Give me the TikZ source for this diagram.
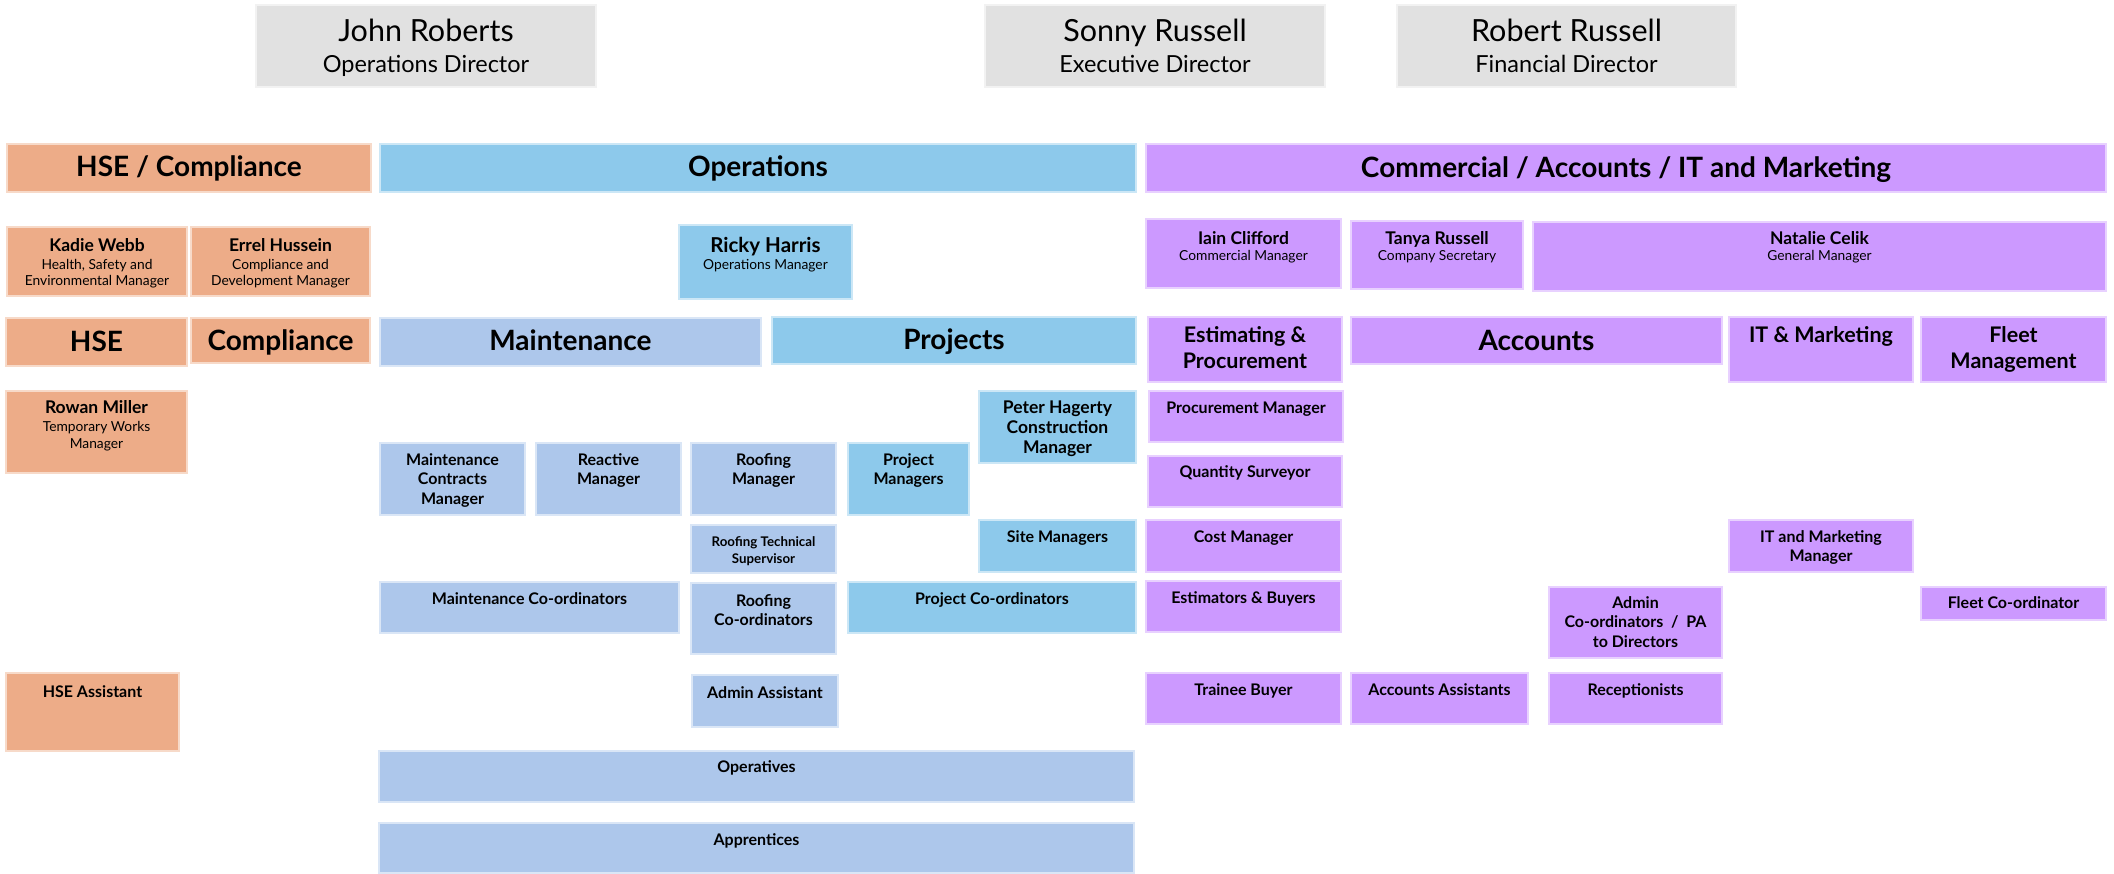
\documentclass[tikz,border=0pt]{standalone}
\usepackage{fontspec}
\setmainfont{Lato}
\definecolor{orng}{HTML}{EDAC88}
\definecolor{opsb}{HTML}{8DC9EB}
\definecolor{mntb}{HTML}{ADC7EB}
\definecolor{purp}{HTML}{CC99FF}
\definecolor{gry}{HTML}{E1E1E1}
\tikzset{boxst/.style={draw=#1!45!white, fill=#1, line width=1.2pt, inner sep=0pt, outer sep=0pt}}
\newcommand\fsz[2]{\fontsize{#1}{#2}\selectfont}
\newcommand\obox[8]{%
\node[boxst=#6, anchor=north west, minimum width={(#4-#2)*1pt}, minimum height={(#5-#3)*1pt}] (#1) at (#2pt,-#3pt) {};
\node[anchor=base, inner sep=0pt] (#1t) at ([yshift=-#7pt]#1.north) {\parbox[t]{\dimexpr#4pt-#2pt\relax}{\centering #8}};
}
\newcommand\hdf{\fsz{28}{30}\bfseries}
\newcommand\smb{\fsz{16}{19.5}\bfseries}
\newcommand\mdb{\fsz{21.5}{25}\bfseries}
\newcommand\dnm{\fsz{30.5}{31}}
\newcommand\dsb{\fsz{23.5}{31}}
\newcommand\pnm{\fontsize{17.5}{16}\selectfont\bfseries}
\newcommand\psb{\fontsize{13.8}{16}\selectfont\mdseries}
\begin{document}
\begin{tikzpicture}[x=1pt,y=1pt]
\path[fill=white,use as bounding box] (0,0) rectangle (2114,-874);
% directors
\obox{jr}{256}{5}{596}{87}{gry}{37}{\dnm John Roberts\\\dsb Operations Director}
\obox{sr}{985}{5}{1325}{87}{gry}{37}{\dnm Sonny Russell\\\dsb Executive Director}
\obox{rr}{1397}{5}{1736}{87}{gry}{37}{\dnm Robert Russell\\\dsb Financial Director}
% banners
\obox{hsec}{7}{144}{371}{192}{orng}{33}{\hdf HSE / Compliance}
\obox{ops}{380}{144}{1136}{192}{opsb}{33}{\hdf Operations}
\obox{com}{1146}{144}{2106}{192}{purp}{34}{\hdf Commercial / Accounts / IT and Marketing}
% row 2
\obox{kw}{7}{227}{187}{296}{orng}{25}{\pnm Kadie Webb\\[2pt]\psb Health, Safety and\\Environmental Manager}
\obox{eh}{191}{227}{370}{296}{orng}{25}{\pnm Errel Hussein\\[2pt]\psb Compliance and\\Development Manager}
\obox{rh}{679}{225}{852}{299}{opsb}{28}{\fsz{20.5}{17}\bfseries Ricky Harris\\\fsz{13.8}{17}\mdseries Operations Manager}
\obox{ic}{1146}{219}{1341}{288}{purp}{26}{\pnm Iain Clifford\\\psb Commercial Manager}
\obox{tr}{1351}{221}{1523}{289}{purp}{24}{\pnm Tanya Russell\\\psb Company Secretary}
\obox{nc}{1533}{222}{2106}{291}{purp}{23}{\pnm Natalie Celik\\\psb General Manager}
% row 3
\obox{hse}{6}{318}{187}{366}{orng}{34}{\hdf HSE}
\obox{cmp}{191}{318}{370}{363}{orng}{33}{\hdf Compliance}
\obox{mnt}{380}{318}{761}{366}{mntb}{33}{\hdf Maintenance}
\obox{prj}{772}{317}{1136}{364}{opsb}{33}{\hdf Projects}
\obox{ep}{1148}{317}{1342}{382}{purp}{26}{\mdb Estimating \&\\Procurement}
\obox{acc}{1351}{317}{1722}{364}{purp}{34}{\hdf Accounts}
\obox{itm}{1729}{317}{1913}{382}{purp}{26}{\mdb IT \& Marketing}
\obox{fm}{1921}{317}{2106}{382}{purp}{26}{\mdb Fleet\\Management}
% row 4
\obox{rm}{6}{391}{187}{473}{orng}{22}{\fsz{17.5}{17}\textbf{Rowan Miller}\\[1pt]\fsz{13.8}{17}Temporary Works\\Manager}
\obox{ph}{979}{391}{1136}{463}{opsb}{22}{\fsz{17.5}{20}\bfseries Peter Hagerty\\Construction\\Manager}
\obox{pm}{1149}{391}{1343}{442}{purp}{22}{\smb Procurement Manager}
\obox{qs}{1148}{456}{1342}{507}{purp}{21}{\smb Quantity Surveyor}
\obox{mcm}{380}{443}{525}{515}{mntb}{22}{\smb Maintenance\\Contracts\\Manager}
\obox{ram}{536}{443}{681}{515}{mntb}{22}{\smb Reactive\\Manager}
\obox{rfm}{691}{443}{836}{515}{mntb}{22}{\smb Roofing\\Manager}
\obox{pjm}{848}{443}{969}{515}{opsb}{22}{\smb Project\\Managers}
\obox{rts}{691}{525}{836}{573}{mntb}{21}{\fsz{13.3}{17}\bfseries Roofing Technical\\Supervisor}
\obox{sm}{979}{520}{1136}{572}{opsb}{22}{\smb Site Managers}
\obox{cm}{1146}{520}{1341}{572}{purp}{22}{\smb Cost Manager}
\obox{itmm}{1729}{520}{1913}{572}{purp}{22}{\smb IT and Marketing\\Manager}
\obox{mco}{380}{582}{679}{633}{mntb}{22}{\smb Maintenance Co-ordinators}
\obox{rco}{691}{583}{836}{654}{mntb}{23}{\smb Roofing\\Co-ordinators}
\obox{pco}{848}{582}{1136}{633}{opsb}{22}{\smb Project Co-ordinators}
\obox{eb}{1146}{581}{1341}{632}{purp}{22}{\smb Estimators \& Buyers}
\obox{aco}{1549}{587}{1722}{658}{purp}{21}{\smb Admin\\Co-ordinators~~/~~PA\\to Directors}
\obox{fco}{1921}{587}{2106}{620}{purp}{21}{\smb Fleet Co-ordinator}
\obox{hsa}{6}{673}{179}{751}{orng}{24}{\smb HSE Assistant}
\obox{aa}{692}{675}{838}{727}{mntb}{23}{\smb Admin Assistant}
\obox{tb}{1146}{673}{1341}{724}{purp}{22}{\smb Trainee Buyer}
\obox{aas}{1351}{673}{1528}{724}{purp}{22}{\smb Accounts Assistants}
\obox{rec}{1549}{673}{1722}{724}{purp}{22}{\smb Receptionists}
\obox{opv}{379}{751}{1134}{802}{mntb}{21}{\smb Operatives}
\obox{app}{379}{823}{1134}{873}{mntb}{22}{\smb Apprentices}
\end{tikzpicture}
\end{document}
